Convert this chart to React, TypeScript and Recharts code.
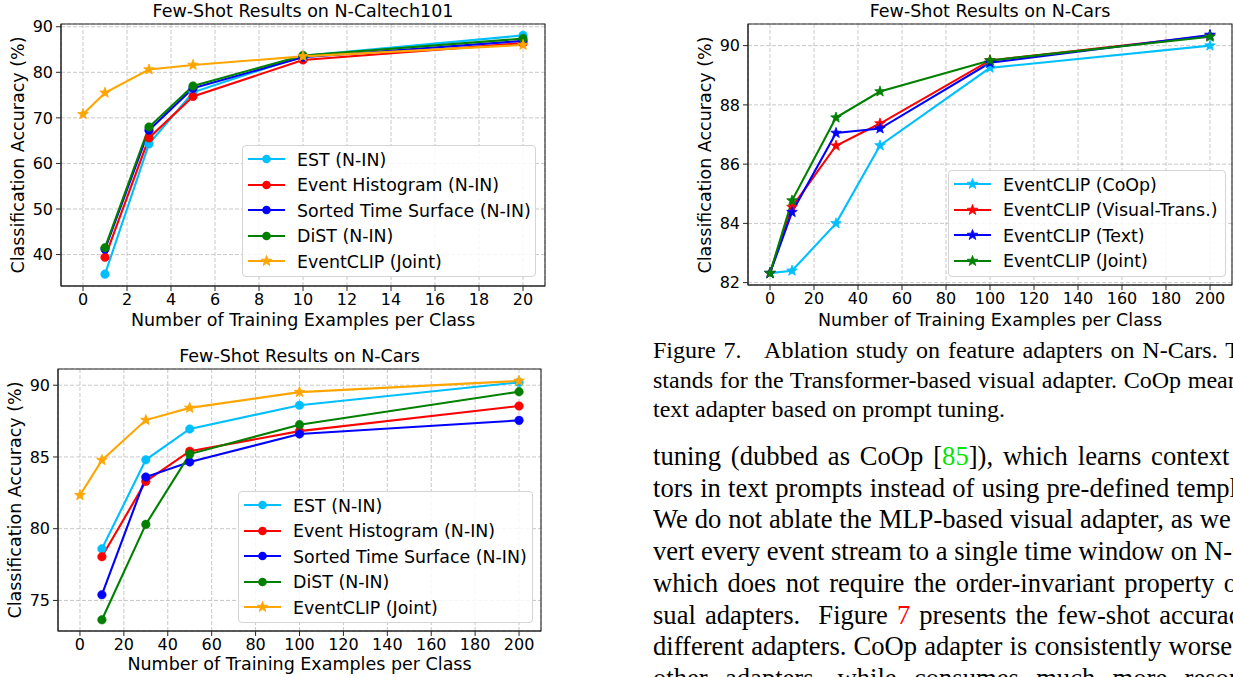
import React from "react";
import { LineChart, Line, XAxis, YAxis, CartesianGrid, Legend, ReferenceArea } from "recharts";

const SANS = "'DejaVu Sans', Verdana, sans-serif";
const SERIF = "'Liberation Serif', 'Times New Roman', serif";

// Few-shot on N-Caltech101 (top left)
const caltechShots = [0, 1, 3, 5, 10, 20];
const caltechEst = [null, 35.7, 64.3, 75.6, 83.6, 88.1];
const caltechHist = [null, 39.4, 65.6, 74.7, 82.7, 86.4];
const caltechSts = [null, 41.2, 67.3, 76.5, 83.3, 86.9];
const caltechDist = [null, 41.5, 68.0, 77.0, 83.7, 87.4];
const caltechClip = [70.8, 75.5, 80.6, 81.6, 83.5, 86.0];

// Few-shot on N-Cars (bottom left)
const carsShots = [0, 10, 30, 50, 100, 200];
const carsEst = [null, 78.6, 84.8, 86.95, 88.6, 90.2];
const carsHist = [null, 78.05, 83.3, 85.4, 86.8, 88.55];
const carsSts = [null, 75.4, 83.6, 84.65, 86.6, 87.55];
const carsDist = [null, 73.65, 80.3, 85.2, 87.25, 89.55];
const carsClip = [82.33, 84.78, 87.57, 88.42, 89.52, 90.3];

// Adapter ablation on N-Cars (top right)
const ablationShots = [0, 10, 30, 50, 100, 200];
const ablationCoop = [82.32, 82.4, 84.0, 86.63, 89.25, 90.0];
const ablationVisual = [82.32, 84.55, 86.62, 87.37, 89.5, 90.33];
const ablationText = [82.32, 84.38, 87.05, 87.2, 89.42, 90.36];
const ablationJoint = [82.32, 84.77, 87.57, 88.45, 89.5, 90.3];

const caltechXTicks = [0, 2, 4, 6, 8, 10, 12, 14, 16, 18, 20];
const carsXTicks = [0, 20, 40, 60, 80, 100, 120, 140, 160, 180, 200];
const caltechYTicks = [40, 50, 60, 70, 80, 90];
const carsYTicks = [75, 80, 85, 90];
const ablationYTicks = [82, 84, 86, 88, 90];

const baselineNames = [
  "EST (N-IN)",
  "Event Histogram (N-IN)",
  "Sorted Time Surface (N-IN)",
  "DiST (N-IN)",
  "EventCLIP (Joint)",
];
const ablationNames = [
  "EventCLIP (CoOp)",
  "EventCLIP (Visual-Trans.)",
  "EventCLIP (Text)",
  "EventCLIP (Joint)",
];

const SKY = "#00bfff";
const RED = "#ff0000";
const BLUE = "#0000ff";
const GREEN = "#008000";
const ORANGE = "#ffa500";

type Marker = "o" | "*";
interface SeriesDef {
  key: string;
  name: string;
  color: string;
  marker: Marker;
  values: (number | null)[];
}

const caltechSeries: SeriesDef[] = [
  { key: "est", name: baselineNames[0], color: SKY, marker: "o", values: caltechEst },
  { key: "hist", name: baselineNames[1], color: RED, marker: "o", values: caltechHist },
  { key: "sts", name: baselineNames[2], color: BLUE, marker: "o", values: caltechSts },
  { key: "dist", name: baselineNames[3], color: GREEN, marker: "o", values: caltechDist },
  { key: "clip", name: baselineNames[4], color: ORANGE, marker: "*", values: caltechClip },
];

const carsSeries: SeriesDef[] = [
  { key: "est", name: baselineNames[0], color: SKY, marker: "o", values: carsEst },
  { key: "hist", name: baselineNames[1], color: RED, marker: "o", values: carsHist },
  { key: "sts", name: baselineNames[2], color: BLUE, marker: "o", values: carsSts },
  { key: "dist", name: baselineNames[3], color: GREEN, marker: "o", values: carsDist },
  { key: "clip", name: baselineNames[4], color: ORANGE, marker: "*", values: carsClip },
];

const ablationSeries: SeriesDef[] = [
  { key: "coop", name: ablationNames[0], color: SKY, marker: "*", values: ablationCoop },
  { key: "visual", name: ablationNames[1], color: RED, marker: "*", values: ablationVisual },
  { key: "text", name: ablationNames[2], color: BLUE, marker: "*", values: ablationText },
  { key: "joint", name: ablationNames[3], color: GREEN, marker: "*", values: ablationJoint },
];

function toRows(xs: number[], series: SeriesDef[]) {
  return xs.map((x, i) => {
    const row: Record<string, number | null> = { x };
    series.forEach((s) => {
      row[s.key] = s.values[i];
    });
    return row;
  });
}

function starPoints(cx: number, cy: number, R: number, r: number) {
  const pts: string[] = [];
  for (let i = 0; i < 10; i++) {
    const rad = i % 2 === 0 ? R : r;
    const a = -Math.PI / 2 + (i * Math.PI) / 5;
    pts.push(`${cx + rad * Math.cos(a)},${cy + rad * Math.sin(a)}`);
  }
  return pts.join(" ");
}

function makeStarDot(color: string) {
  return (props: any) => {
    const { cx, cy, index } = props;
    if (cx == null || cy == null || isNaN(cx) || isNaN(cy)) return <g key={`s-${index}`} />;
    return (
      <polygon
        key={`s-${index}`}
        points={starPoints(cx, cy, 5.6, 2.3)}
        fill={color}
        stroke={color}
        strokeWidth={0.8}
      />
    );
  };
}

function LegendSwatch({ color, marker }: { color: string; marker: Marker }) {
  return (
    <svg width={37} height={14} style={{ position: "absolute", left: 5, top: 6 }}>
      <line x1={0} y1={7} x2={37} y2={7} stroke={color} strokeWidth={2.2} />
      {marker === "o" ? (
        <circle cx={18.5} cy={7} r={4.3} fill={color} />
      ) : (
        <polygon points={starPoints(18.5, 7, 5.6, 2.3)} fill={color} stroke={color} strokeWidth={0.8} />
      )}
    </svg>
  );
}

function makeLegend(series: SeriesDef[]) {
  return () => (
    <div
      style={{
        width: "100%",
        height: "100%",
        boxSizing: "border-box",
        border: "1px solid #d4d4d4",
        borderRadius: 4,
        background: "rgba(255,255,255,0.85)",
      }}
    >
      {series.map((s) => (
        <div key={s.key} style={{ position: "relative", height: 25.5 }}>
          <LegendSwatch color={s.color} marker={s.marker} />
          <span
            style={{
              position: "absolute",
              left: 54,
              top: 3.5,
              fontFamily: SANS,
              fontSize: 17.4,
              lineHeight: "20px",
              color: "#000",
              whiteSpace: "nowrap",
            }}
          >
            {s.name}
          </span>
        </div>
      ))}
    </div>
  );
}

interface PanelProps {
  left: number;
  top: number;
  width: number;
  height: number;
  margin: { top: number; right: number; bottom: number; left: number };
  yAxisWidth: number;
  xs: number[];
  series: SeriesDef[];
  xDomain: [number, number];
  xTicks: number[];
  yDomain: [number, number];
  yTicks: number[];
  legend: { left: number; top: number; width: number; height: number };
  title: string;
  titleY: number;
  xLabelY: number;
  yLabelX: number;
}

function Panel(p: PanelProps) {
  const rows = toRows(p.xs, p.series);
  const plotLeft = p.margin.left + p.yAxisWidth;
  const plotRight = p.width - p.margin.right;
  const plotTop = p.margin.top;
  const plotBottom = p.height - p.margin.bottom - 30;
  const cx = (plotLeft + plotRight) / 2;
  const cy = (plotTop + plotBottom) / 2;
  const text = { position: "absolute" as const, fontFamily: SANS, fontSize: 17.5, lineHeight: 1, color: "#000", whiteSpace: "nowrap" as const };
  const tick = { fill: "#000", fontSize: 16, fontFamily: SANS };
  return (
    <div style={{ position: "absolute", left: p.left, top: p.top, width: p.width, height: p.height }}>
      <LineChart width={p.width} height={p.height} data={rows} margin={p.margin}>
        <CartesianGrid stroke="#c2c2c2" strokeDasharray="4 2" strokeWidth={0.9} />
        <XAxis
          dataKey="x"
          type="number"
          domain={p.xDomain}
          ticks={p.xTicks}
          interval={0}
          allowDataOverflow
          height={30}
          stroke="#262626"
          tickSize={5}
          tickMargin={3}
          tick={tick}
        />
        <YAxis
          type="number"
          domain={p.yDomain}
          ticks={p.yTicks}
          interval={0}
          allowDataOverflow
          width={p.yAxisWidth}
          stroke="#262626"
          tickSize={5}
          tickMargin={3}
          tick={tick}
        />
        {/* axes box, like the matplotlib spines */}
        <ReferenceArea
          x1={p.xDomain[0]}
          x2={p.xDomain[1]}
          y1={p.yDomain[0]}
          y2={p.yDomain[1]}
          fill="none"
          fillOpacity={0}
          stroke="#262626"
          strokeWidth={1.1}
          ifOverflow="visible"
        />
        <Legend
          layout="horizontal"
          verticalAlign="middle"
          align="center"
          content={makeLegend(p.series)}
          wrapperStyle={{ left: p.legend.left, top: p.legend.top, width: p.legend.width, height: p.legend.height, bottom: "auto", right: "auto" }}
        />
        {p.series.map((s) => (
          <Line
            key={s.key}
            dataKey={s.key}
            name={s.name}
            stroke={s.color}
            strokeWidth={2.1}
            type="linear"
            dot={s.marker === "o" ? { r: 4.3, fill: s.color, stroke: s.color, strokeWidth: 0.5 } : makeStarDot(s.color)}
            activeDot={false}
            isAnimationActive={false}
          />
        ))}
      </LineChart>
      <div style={{ ...text, left: cx, top: p.titleY, transform: "translate(-50%, -50%)" }}>{p.title}</div>
      <div style={{ ...text, left: cx, top: p.xLabelY, transform: "translate(-50%, -50%)" }}>
        Number of Training Examples per Class
      </div>
      <div style={{ ...text, left: p.yLabelX, top: cy, transform: "translate(-50%, -50%) rotate(-90deg)" }}>
        Classification Accuracy (%)
      </div>
    </div>
  );
}

const captionLines = [
  "Figure 7.\u00a0\u00a0 Ablation study on feature adapters on N-Cars. Trans.",
  "stands for the Transformer-based visual adapter. CoOp means the",
];
const captionLast = "text adapter based on prompt tuning.";

const justified: React.CSSProperties = {
  width: 632,
  textAlign: "justify",
  textAlignLast: "justify",
  whiteSpace: "nowrap",
};

export default function App() {
  return (
    <div style={{ position: "absolute", left: 0, top: 0, width: 1233, height: 677, overflow: "hidden", background: "#fff" }}>
      <Panel
        left={0}
        top={0}
        width={560}
        height={340}
        margin={{ top: 24, right: 15, bottom: 24, left: 0 }}
        yAxisWidth={61}
        xs={caltechShots}
        series={caltechSeries}
        xDomain={[-1, 21]}
        xTicks={caltechXTicks}
        yDomain={[33.1, 90.6]}
        yTicks={caltechYTicks}
        legend={{ left: 242, top: 145, width: 294, height: 132 }}
        title="Few-Shot Results on N-Caltech101"
        titleY={12}
        xLabelY={321}
        yLabelX={19}
      />
      <Panel
        left={690}
        top={0}
        width={543}
        height={340}
        margin={{ top: 24, right: 1, bottom: 25, left: 0 }}
        yAxisWidth={58}
        xs={ablationShots}
        series={ablationSeries}
        xDomain={[-10, 210]}
        xTicks={carsXTicks}
        yDomain={[81.92, 90.73]}
        yTicks={ablationYTicks}
        legend={{ left: 258, top: 170, width: 278, height: 107 }}
        title="Few-Shot Results on N-Cars"
        titleY={12}
        xLabelY={321}
        yLabelX={16}
      />
      <Panel
        left={0}
        top={340}
        width={560}
        height={337}
        margin={{ top: 29, right: 19, bottom: 16, left: 0 }}
        yAxisWidth={58}
        xs={carsShots}
        series={carsSeries}
        xDomain={[-10, 210]}
        xTicks={carsXTicks}
        yDomain={[72.87, 91.13]}
        yTicks={carsYTicks}
        legend={{ left: 238, top: 151, width: 295, height: 132 }}
        title="Few-Shot Results on N-Cars"
        titleY={17}
        xLabelY={325}
        yLabelX={16}
      />

      <div style={{ position: "absolute", left: 653, top: 336, width: 580, height: 341, overflow: "hidden", fontFamily: SERIF, color: "#000" }}>
        <div style={{ fontSize: 24, lineHeight: "29.5px" }}>
          {captionLines.map((l) => (
            <div key={l} style={justified}>{l}</div>
          ))}
          <div style={{ whiteSpace: "nowrap" }}>{captionLast}</div>
        </div>
        <div style={{ position: "absolute", top: 105, left: 0, fontSize: 26.6, lineHeight: "31.7px" }}>
          <div style={justified}>
            tuning (dubbed as CoOp [<span style={{ color: "#00e600" }}>85</span>]), which learns context vec-
          </div>
          <div style={justified}>tors in text prompts instead of using pre-defined templates.</div>
          <div style={justified}>We do not ablate the MLP-based visual adapter, as we con-</div>
          <div style={justified}>vert every event stream to a single time window on N-Cars,</div>
          <div style={justified}>which does not require the order-invariant property of vi-</div>
          <div style={justified}>
            sual adapters.&nbsp; Figure <span style={{ color: "#ff0000" }}>7</span> presents the few-shot accuracy of
          </div>
          <div style={justified}>different adapters. CoOp adapter is consistently worse than</div>
          <div style={justified}>other adapters, while consumes much more resources</div>
        </div>
      </div>
    </div>
  );
}
